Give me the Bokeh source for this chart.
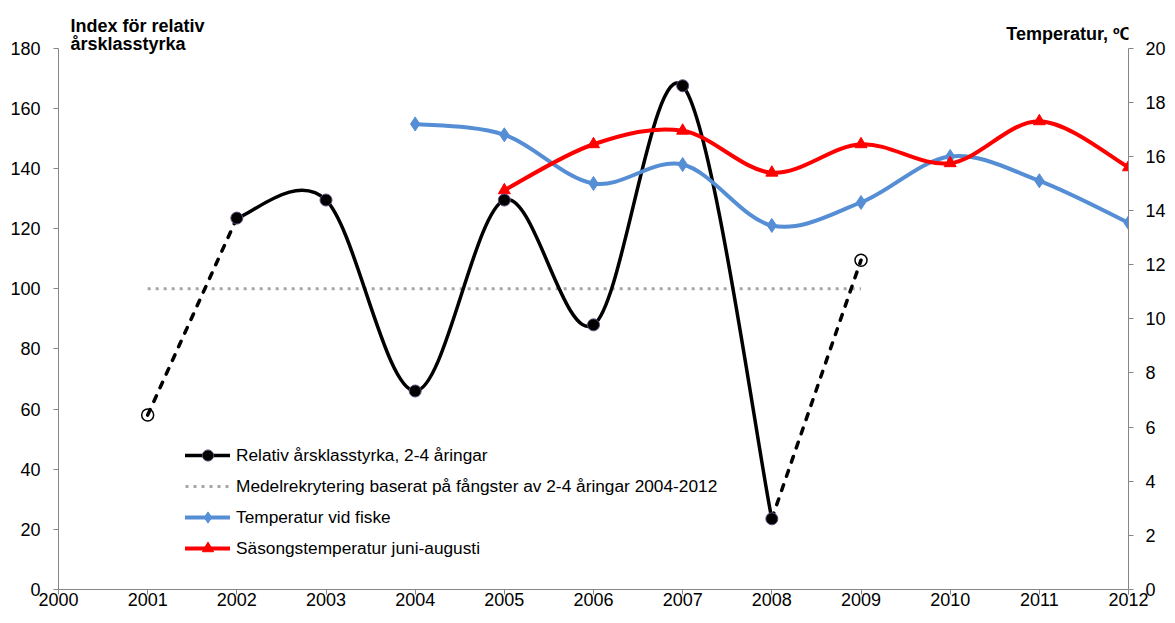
from bokeh.plotting import figure
from bokeh.models import (Range1d, LinearAxis, FixedTicker, Label, Legend,
                          LegendItem, ColumnDataSource)
from bokeh.embed import file_html
from bokeh.resources import INLINE

# ---------------- data ----------------
index_years = [2001, 2002, 2003, 2004, 2005, 2006, 2007, 2008, 2009]
index_values = [58, 123.5, 129.5, 66, 129.5, 88, 167.5, 23.5, 109.5]

mean_years = [2001, 2009]
mean_values = [100, 100]

fishing_years = [2004, 2005, 2006, 2007, 2008, 2009, 2010, 2011, 2012]
fishing_temp = [17.2, 16.8, 15.0, 15.7, 13.45, 14.3, 16.0, 15.1, 13.55]

season_years = [2005, 2006, 2007, 2008, 2009, 2010, 2011, 2012]
season_temp = [14.75, 16.45, 16.95, 15.4, 16.45, 15.75, 17.3, 15.6]

x_ticks = list(range(2000, 2013))
left_ticks = list(range(0, 181, 20))
right_ticks = list(range(0, 21, 2))

labels = [
    "Relativ årsklasstyrka, 2-4 åringar",
    "Medelrekrytering baserat på fångster av 2-4 åringar 2004-2012",
    "Temperatur vid fiske",
    "Säsongstemperatur juni-augusti",
]

FONT = "Liberation Sans"

# the frame extends above the top tick so the axis titles sit inside it
LEFT_MAX = 180
RIGHT_MAX = 20
HEADROOM = 195.85 / 180.0


def smooth_source(xs, ys):
    """Catmull-Rom style bezier segments through the data points."""
    n = len(xs)
    d = dict(x0=[], y0=[], x1=[], y1=[], cx0=[], cy0=[], cx1=[], cy1=[])
    for i in range(n - 1):
        xp, yp = (xs[i - 1], ys[i - 1]) if i > 0 else (xs[i], ys[i])
        xn, yn = (xs[i + 2], ys[i + 2]) if i + 2 < n else (xs[i + 1], ys[i + 1])
        d["x0"].append(xs[i]); d["y0"].append(ys[i])
        d["x1"].append(xs[i + 1]); d["y1"].append(ys[i + 1])
        d["cx0"].append(xs[i] + (xs[i + 1] - xp) / 6)
        d["cy0"].append(ys[i] + (ys[i + 1] - yp) / 6)
        d["cx1"].append(xs[i + 1] - (xn - xs[i]) / 6)
        d["cy1"].append(ys[i + 1] - (yn - ys[i]) / 6)
    return ColumnDataSource(d)


p = figure(width=1175, height=623, output_backend="svg", toolbar_location=None,
           x_range=Range1d(2000, 2012), y_range=Range1d(0, LEFT_MAX * HEADROOM),
           min_border_left=58, min_border_right=47, min_border_top=0,
           min_border_bottom=34)
p.extra_y_ranges = {"temp": Range1d(0, RIGHT_MAX * HEADROOM)}
p.outline_line_color = None
p.xgrid.visible = False
p.ygrid.visible = False
p.background_fill_color = "white"
p.border_fill_color = "white"

AX = "#868686"


def style_axis(ax, standoff):
    ax.axis_line_color = AX
    ax.axis_line_width = 1
    ax.major_tick_line_color = AX
    ax.major_tick_out = 5
    ax.major_tick_in = 0
    ax.minor_tick_line_color = None
    ax.major_label_text_font = FONT
    ax.major_label_text_font_size = "18px"
    ax.major_label_text_color = "black"
    ax.major_label_standoff = standoff


style_axis(p.xaxis[0], -2)
p.xaxis[0].ticker = FixedTicker(ticks=x_ticks)
style_axis(p.yaxis[0], 13)
p.yaxis[0].ticker = FixedTicker(ticks=left_ticks)
p.yaxis[0].bounds = (0, LEFT_MAX)

right = LinearAxis(y_range_name="temp")
style_axis(right, 12)
right.ticker = FixedTicker(ticks=right_ticks)
right.bounds = (0, RIGHT_MAX)
p.add_layout(right, "right")

# ---------------- series ----------------
mean_r = p.line(mean_years, mean_values, line_color="#A6A6A6", line_width=3,
                line_dash="3 5")

p.line(index_years[:2], index_values[:2], line_color="black", line_width=3.5,
       line_dash="6 9", line_cap="round")
p.line(index_years[-2:], index_values[-2:], line_color="black", line_width=3.5,
       line_dash="6 9", line_cap="round")
p.scatter([index_years[0], index_years[-1]], [index_values[0], index_values[-1]],
          marker="circle", size=12, fill_color="white", fill_alpha=0.0,
          line_color="black", line_width=1.5)

solid_x = index_years[1:-1]
solid_y = index_values[1:-1]
black_curve = p.bezier(x0="x0", y0="y0", x1="x1", y1="y1", cx0="cx0", cy0="cy0",
                       cx1="cx1", cy1="cy1", source=smooth_source(solid_x, solid_y),
                       line_color="black", line_width=3.5, line_cap="round")

blue_curve = p.bezier(x0="x0", y0="y0", x1="x1", y1="y1", cx0="cx0", cy0="cy0",
                      cx1="cx1", cy1="cy1",
                      source=smooth_source(fishing_years, fishing_temp),
                      line_color="#558ED5", line_width=4, line_cap="round",
                      y_range_name="temp")
blue_marks = p.scatter(fishing_years, fishing_temp, marker="diamond", size=14,
                       fill_color="#558ED5", line_color="#558ED5",
                       y_range_name="temp")

red_curve = p.bezier(x0="x0", y0="y0", x1="x1", y1="y1", cx0="cx0", cy0="cy0",
                     cx1="cx1", cy1="cy1",
                     source=smooth_source(season_years, season_temp),
                     line_color="#FF0000", line_width=4, line_cap="round",
                     y_range_name="temp")
red_marks = p.scatter(season_years, season_temp, marker="triangle", size=12,
                      fill_color="#FF0000", line_color="#FF0000",
                      y_range_name="temp")

black_marks = p.scatter(solid_x, solid_y, marker="circle", size=12,
                        fill_color="black", line_color="#604A7B", line_width=1)

# ---------------- legend ----------------
legend = Legend(items=[
    LegendItem(label=labels[0], renderers=[black_curve, black_marks]),
    LegendItem(label=labels[1], renderers=[mean_r]),
    LegendItem(label=labels[2], renderers=[blue_curve, blue_marks]),
    LegendItem(label=labels[3], renderers=[red_curve, red_marks]),
], location=(127, 27))
legend.padding = 0
legend.margin = 0
legend.spacing = 3
legend.glyph_width = 45
legend.glyph_height = 28
legend.label_height = 28
legend.label_standoff = 6
legend.label_text_font = FONT
legend.label_text_font_size = "17.3px"
legend.label_text_color = "black"
legend.border_line_color = None
legend.background_fill_alpha = 0
p.add_layout(legend, "center")

# ---------------- axis titles (screen units from frame bottom-left) ----------------
for txt, yy in [("Index för relativ", 564), ("årsklasstyrka", 546)]:
    p.add_layout(Label(x=12, y=yy, x_units="screen", y_units="screen", text=txt,
                       text_font=FONT, text_font_size="18px", text_font_style="bold",
                       text_color="black", text_baseline="alphabetic",
                       text_align="left"))
p.add_layout(Label(x=1074, y=556, x_units="screen", y_units="screen",
                   text="Temperatur, ºC", text_font=FONT, text_font_size="18px",
                   text_font_style="bold", text_color="black",
                   text_baseline="alphabetic", text_align="right"))

open("out.html", "w").write(file_html(p, INLINE))
